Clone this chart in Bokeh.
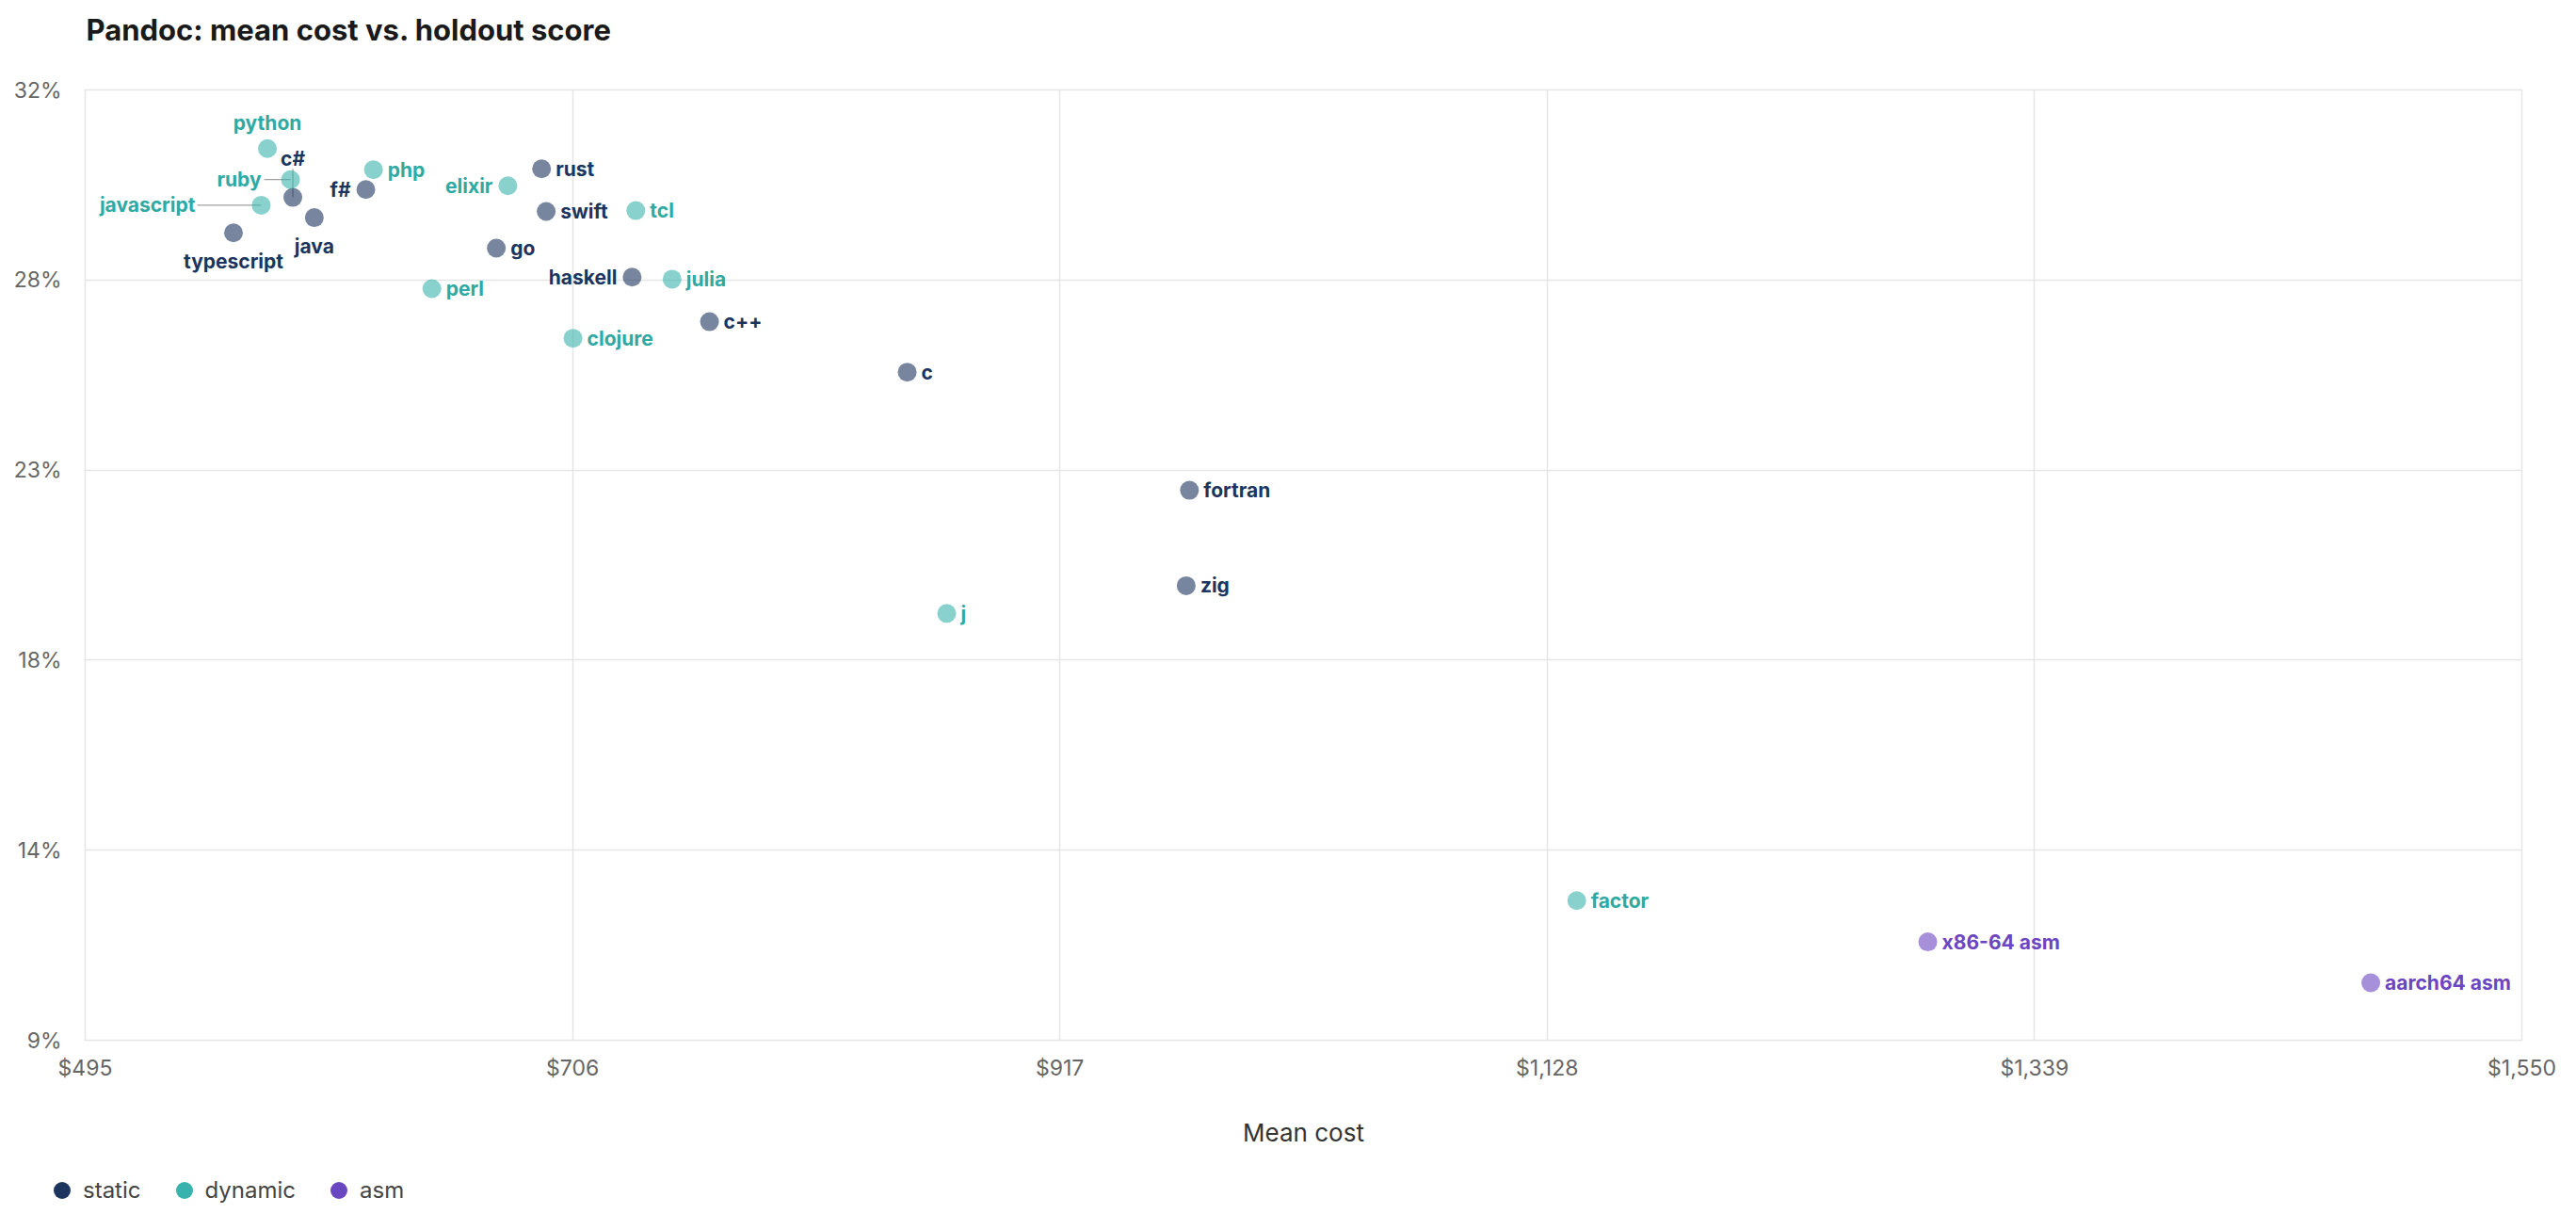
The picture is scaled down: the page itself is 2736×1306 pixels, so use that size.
import math
from bokeh.plotting import figure
from bokeh.layouts import column
from bokeh.models import ColumnDataSource, FixedTicker, Legend, LegendItem, Range1d, Label
from bokeh.core.properties import value
from bokeh.embed import file_html
from bokeh.resources import INLINE

# ---------------- data ----------------
TITLE = "Pandoc: mean cost vs. holdout score"
X_LABEL = "Mean cost"

names = ["python", "c#", "ruby", "javascript", "typescript", "java", "f#", "php",
         "perl", "go", "elixir", "rust", "swift", "clojure", "haskell", "tcl",
         "julia", "c++", "c", "j", "fortran", "zig", "factor", "x86-64 asm", "aarch64 asm"]
mean_cost = [573.9, 584.9, 583.9, 571.2, 559.2, 594.2, 616.5, 619.8,
             645.1, 673.0, 678.0, 692.6, 694.6, 706.2, 731.8, 733.4,
             749.1, 765.3, 850.9, 868.0, 973.1, 971.7, 1140.8, 1292.8, 1484.6]
holdout_score = [30.58, 29.40, 29.83, 29.21, 28.54, 28.91, 29.59, 30.07,
                 27.19, 28.17, 29.68, 30.09, 29.06, 25.99, 27.47, 29.08,
                 27.42, 26.39, 25.17, 19.33, 22.31, 20.00, 12.38, 11.38, 10.39]
kinds = ["dynamic", "static", "dynamic", "dynamic", "static", "static", "static", "dynamic",
         "dynamic", "static", "dynamic", "static", "static", "dynamic", "static", "dynamic",
         "dynamic", "static", "static", "dynamic", "static", "static", "dynamic", "asm", "asm"]

categories = ["static", "dynamic", "asm"]

x_ticks = [495, 706, 917, 1128, 1339, 1550]
x_tick_labels = ["$495", "$706", "$917", "$1,128", "$1,339", "$1,550"]
y_ticks = [9, 13.6, 18.2, 22.8, 27.4, 32]
y_tick_labels = ["9%", "14%", "18%", "23%", "28%", "32%"]

# ---------------- styles ----------------
FONT = "Inter"
dot_color = {"static": "#1c355e", "dynamic": "#38b2ac", "asm": "#6b46c1"}
text_color = {"static": "#1c355e", "dynamic": "#2fa9a1", "asm": "#6b46c1"}

# label placement: (align, baseline, x_offset, y_offset) in screen pixels
placement = {
    "python": ("center", "bottom", 0, -15),
    "c#": ("center", "bottom", 0, -29),
    "ruby": ("right", "middle", -31, 0),
    "javascript": ("right", "middle", -70, 0),
    "typescript": ("center", "top", 0, 18),
    "java": ("center", "top", 0, 18),
    "f#": ("right", "middle", -16, 0),
    "elixir": ("right", "middle", -16, 0),
    "haskell": ("right", "middle", -16, 0),
}
default_place = ("left", "middle", 15, 0)

# leader lines: name -> (angle, length px)
leaders = {"ruby": (math.pi, 28), "javascript": (math.pi, 68), "c#": (math.pi / 2, 30)}

W = 2720
H_TITLE, H_MAIN, H_LEGEND = 75, 1145, 70
B_LEFT, B_RIGHT, B_TOP, B_BOTTOM = 90, 42, 20, 113


def blank_fig(h):
    f = figure(width=W, height=h, output_backend="svg", toolbar_location=None,
               x_axis_type=None, y_axis_type=None, min_border=0,
               x_range=Range1d(0, 1), y_range=Range1d(0, 1))
    f.frame_align = False
    f.outline_line_color = None
    f.background_fill_color = "white"
    f.border_fill_color = "white"
    return f


# ---------------- title ----------------
pt = blank_fig(H_TITLE)
pt.add_layout(Label(x=B_LEFT + 1, y=44, x_units="screen", y_units="screen", text=TITLE,
                    text_font=FONT, text_font_size="31px", text_font_style="bold",
                    text_color="#1a1a1a", text_baseline="alphabetic", text_align="left"))

# ---------------- main plot ----------------
p = figure(width=W, height=H_MAIN, output_backend="svg", toolbar_location=None,
           x_range=Range1d(x_ticks[0], x_ticks[-1]), y_range=Range1d(y_ticks[0], y_ticks[-1]),
           min_border_left=B_LEFT, min_border_right=B_RIGHT,
           min_border_top=B_TOP, min_border_bottom=B_BOTTOM)
p.background_fill_color = "white"
p.border_fill_color = "white"
p.outline_line_color = "#e5e5e5"
p.outline_line_width = 1.5

for ax in (p.xaxis[0], p.yaxis[0]):
    ax.axis_line_color = None
    ax.major_tick_line_color = None
    ax.minor_tick_line_color = None
    ax.major_tick_in = 0
    ax.major_tick_out = 0
    ax.major_label_text_font = FONT
    ax.major_label_text_font_size = "23px"
    ax.major_label_text_color = "#666666"

p.xaxis.ticker = FixedTicker(ticks=x_ticks)
p.xaxis.major_label_overrides = {t: l for t, l in zip(x_ticks, x_tick_labels)}
p.xaxis.major_label_standoff = 15
p.xaxis.axis_label = X_LABEL
p.xaxis.axis_label_text_font = FONT
p.xaxis.axis_label_text_font_size = "26px"
p.xaxis.axis_label_text_font_style = "normal"
p.xaxis.axis_label_text_color = "#333333"
p.xaxis.axis_label_standoff = 36

p.yaxis.ticker = FixedTicker(ticks=y_ticks)
p.yaxis.major_label_overrides = {t: l for t, l in zip(y_ticks, y_tick_labels)}
p.yaxis.major_label_standoff = 25

p.xgrid.ticker = FixedTicker(ticks=x_ticks)
p.ygrid.ticker = FixedTicker(ticks=y_ticks)
p.grid.grid_line_color = "#e5e5e5"
p.grid.grid_line_width = 1.5

# leader lines
lx, ly, la, ll = [], [], [], []
for n, (ang, ln) in leaders.items():
    i = names.index(n)
    lx.append(mean_cost[i]); ly.append(holdout_score[i]); la.append(ang); ll.append(ln)
p.ray(x=lx, y=ly, angle=la, length=ll, length_units="screen",
      line_color="#8a8a8a", line_width=1.3, line_alpha=0.8)

# points
src = ColumnDataSource(dict(x=mean_cost, y=holdout_score, name=names,
                            color=[dot_color[k] for k in kinds]))
p.scatter("x", "y", source=src, size=20, fill_color="color", fill_alpha=0.6, line_color=None)

# labels, grouped by placement
groups = {}
for i, n in enumerate(names):
    pl = placement.get(n, default_place)
    groups.setdefault(pl, []).append(i)
for (align, base, xo, yo), idx in groups.items():
    s = ColumnDataSource(dict(x=[mean_cost[i] for i in idx], y=[holdout_score[i] for i in idx],
                              t=[names[i] for i in idx], c=[text_color[kinds[i]] for i in idx]))
    p.text("x", "y", text="t", source=s, text_color="c", text_font=value(FONT),
           text_font_size="21px", text_font_style="bold", text_align=align,
           text_baseline=base, x_offset=xo, y_offset=yo)

# ---------------- legend ----------------
pl_fig = blank_fig(H_LEGEND)
items = []
for cat in categories:
    # legend proxy: a single point kept outside the visible range
    r = pl_fig.scatter(x=[-5], y=[-5], size=18, fill_color=dot_color[cat], line_color=None)
    items.append(LegendItem(label=cat, renderers=[r]))
legend = Legend(items=items, location=(43, 4), orientation="horizontal",
                glyph_width=45, glyph_height=45, label_standoff=-2, spacing=23,
                padding=0, margin=0, border_line_color=None, background_fill_alpha=0,
                label_text_font=FONT, label_text_font_size="24px", label_text_color="#444444")
pl_fig.add_layout(legend)

layout = column(pt, p, pl_fig, spacing=0)
open("out.html", "w").write(file_html(layout, INLINE))
